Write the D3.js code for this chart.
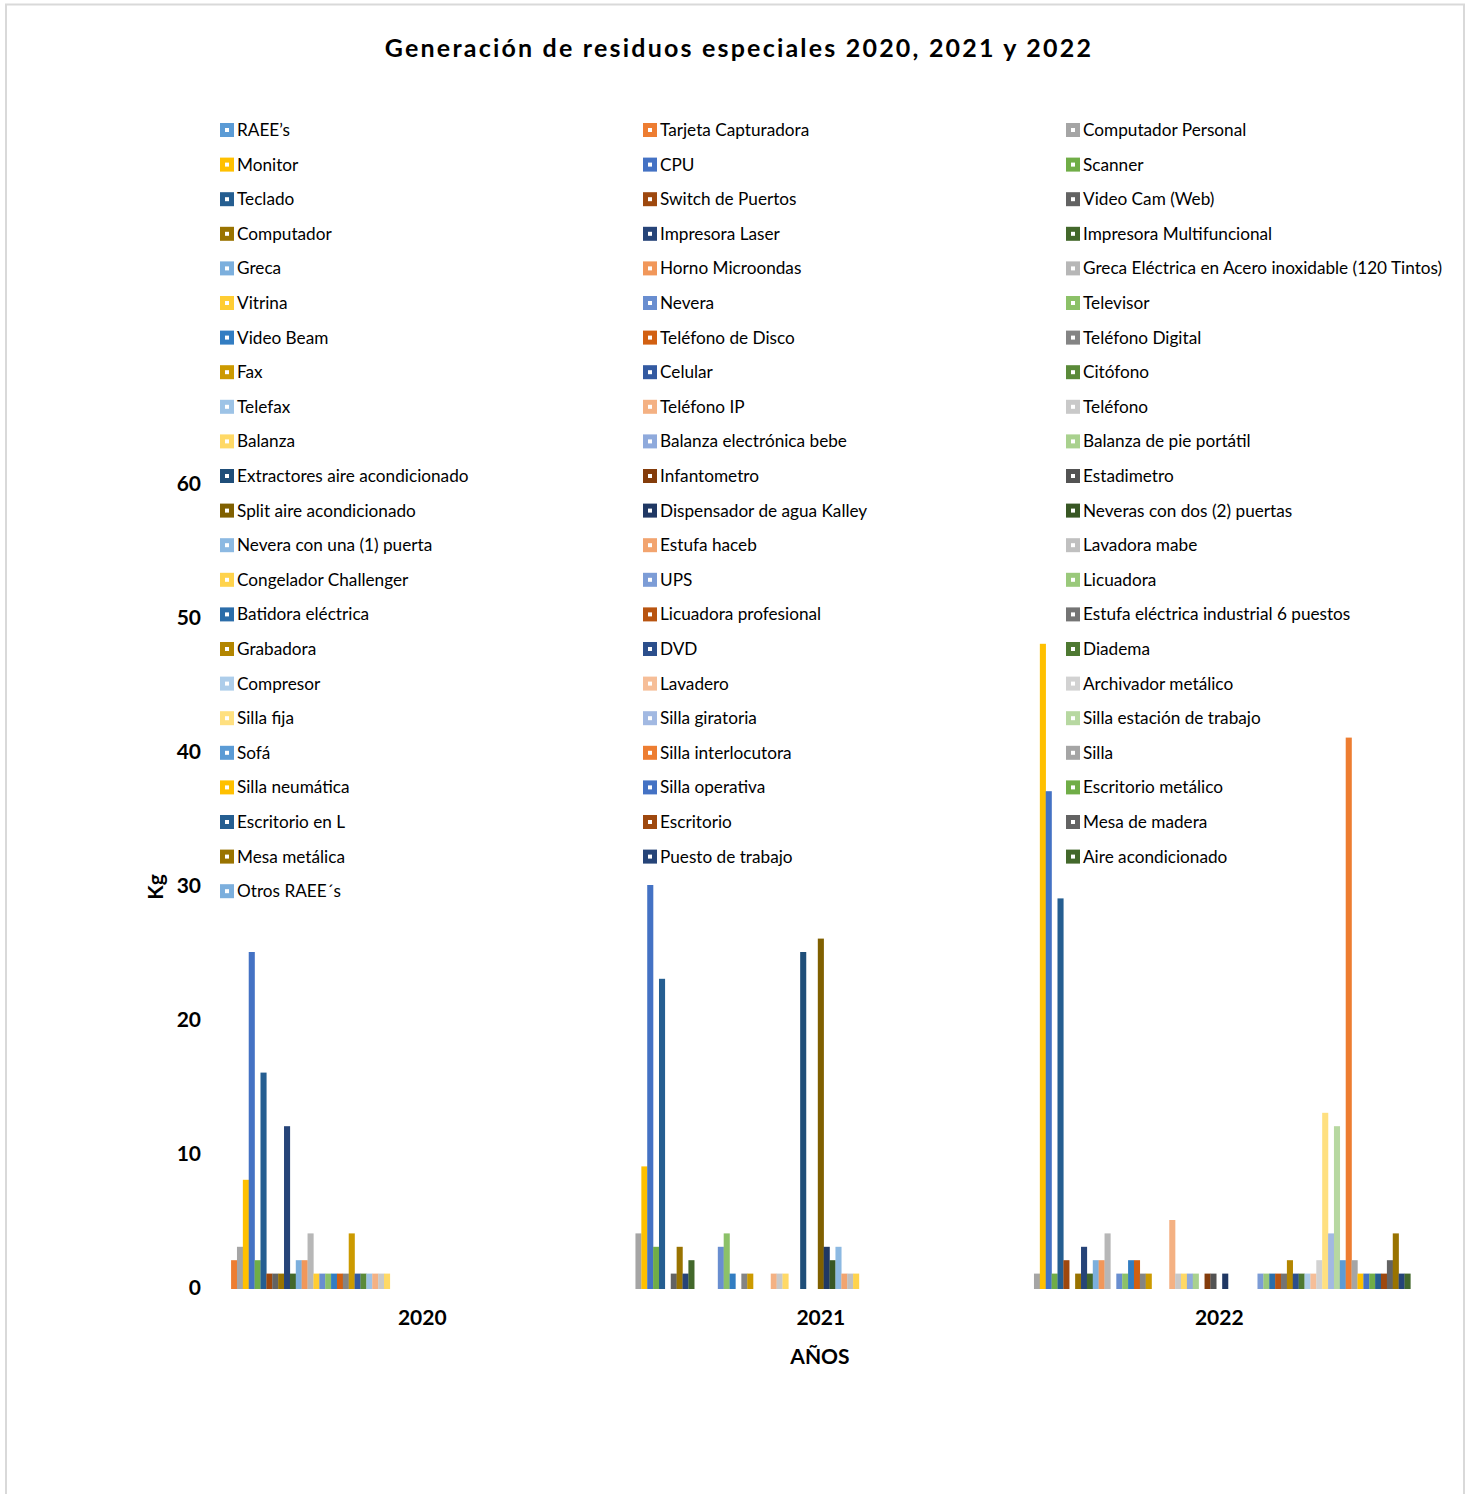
<!DOCTYPE html>
<html>
<head>
<meta charset="utf-8">
<script src="https://cdn.jsdelivr.net/npm/d3@7"></script>
<style>
  body { margin: 0; background: #fff; }
  svg text { font-family: Lato, "Open Sans", sans-serif; fill: #000; }
</style>
</head>
<body>
<svg width="1472" height="1494"></svg>
<script>
  // categories on the x axis
  const years = ["2020", "2021", "2022"];

  // series, in legend order
  const seriesNames = [
    "RAEE’s", "Tarjeta Capturadora", "Computador Personal",
    "Monitor", "CPU", "Scanner",
    "Teclado", "Switch de Puertos", "Video Cam (Web)",
    "Computador", "Impresora Laser", "Impresora Multifuncional",
    "Greca", "Horno Microondas", "Greca Eléctrica en Acero inoxidable (120 Tintos)",
    "Vitrina", "Nevera", "Televisor",
    "Video Beam", "Teléfono de Disco", "Teléfono Digital",
    "Fax", "Celular", "Citófono",
    "Telefax", "Teléfono IP", "Teléfono",
    "Balanza", "Balanza electrónica bebe", "Balanza de pie portátil",
    "Extractores aire acondicionado", "Infantometro", "Estadimetro",
    "Split aire acondicionado", "Dispensador de agua Kalley", "Neveras con dos (2) puertas",
    "Nevera con una (1) puerta", "Estufa haceb", "Lavadora mabe",
    "Congelador Challenger", "UPS", "Licuadora",
    "Batidora eléctrica", "Licuadora profesional", "Estufa eléctrica industrial 6 puestos",
    "Grabadora", "DVD", "Diadema",
    "Compresor", "Lavadero", "Archivador metálico",
    "Silla fija", "Silla giratoria", "Silla estación de trabajo",
    "Sofá", "Silla interlocutora", "Silla",
    "Silla neumática", "Silla operativa", "Escritorio metálico",
    "Escritorio en L", "Escritorio", "Mesa de madera",
    "Mesa metálica", "Puesto de trabajo", "Aire acondicionado",
    "Otros RAEE´s"
  ];

  // kg per series, same order as seriesNames
  const kg2020 = [
    0, 2, 3, 8, 25, 2, 16, 1, 1, 1, 12, 1, 2, 2, 4, 1, 1, 1, 1, 1,
    1, 4, 1, 1, 1, 1, 1, 1, 0, 0, 0, 0, 0, 0, 0, 0, 0, 0, 0, 0,
    0, 0, 0, 0, 0, 0, 0, 0, 0, 0, 0, 0, 0, 0, 0, 0, 0, 0, 0, 0,
    0, 0, 0, 0, 0, 0, 0
  ];
  const kg2021 = [
    0, 0, 4, 9, 30, 3, 23, 0, 1, 3, 1, 2, 0, 0, 0, 0, 3, 4, 1, 0,
    1, 1, 0, 0, 0, 1, 1, 1, 0, 0, 25, 0, 0, 26, 3, 2, 3, 1, 1, 1,
    0, 0, 0, 0, 0, 0, 0, 0, 0, 0, 0, 0, 0, 0, 0, 0, 0, 0, 0, 0,
    0, 0, 0, 0, 0, 0, 0
  ];
  const kg2022 = [
    0, 0, 1, 48, 37, 1, 29, 2, 0, 1, 3, 1, 2, 2, 4, 0, 1, 1, 2, 2,
    1, 1, 0, 0, 0, 5, 1, 1, 1, 1, 0, 1, 1, 0, 1, 0, 0, 0, 0, 0,
    1, 1, 1, 1, 1, 2, 1, 1, 1, 1, 2, 13, 4, 12, 2, 41, 2, 1, 1, 1,
    1, 1, 2, 4, 1, 1, 0
  ];
  const yTicks = [0, 10, 20, 30, 40, 50, 60];

  const byYear = { "2020": kg2020, "2021": kg2021, "2022": kg2022 };

  // office palette and its shade variations (lumMod, lumOff)
  const accents = ["#5B9BD5", "#ED7D31", "#A5A5A5", "#FFC000", "#4472C4", "#70AD47"];
  const shades = [[1, 0], [0.6, 0], [0.8, 0.2], [0.8, 0], [0.6, 0.4], [0.5, 0], [0.7, 0.3], [0.7, 0], [0.5, 0.5]];
  const seriesColor = i => {
    const c = d3.hsl(accents[i % 6]);
    const [m, o] = shades[Math.floor(i / 6) % shades.length];
    c.l = c.l * m + o;
    return c.formatHex();
  };

  const svg = d3.select("svg");

  svg.append("rect")
    .attr("x", 6).attr("y", 4.5)
    .attr("width", 1458).attr("height", 1520)
    .attr("fill", "none").attr("stroke", "#D9D9D9").attr("stroke-width", 2);

  svg.append("text")
    .attr("x", 739).attr("y", 57)
    .attr("text-anchor", "middle")
    .attr("font-size", 25).attr("font-weight", 700)
    .attr("letter-spacing", 2.2)
    .text("Generación de residuos especiales 2020, 2021 y 2022");

  const y = d3.scaleLinear().domain([0, 60]).range([1287, 483]);
  const x = d3.scaleBand().domain(years).range([223, 1418.5]);
  const xs = d3.scaleBand().domain(d3.range(seriesNames.length))
    .range([2.2, x.bandwidth() - 2.2]);

  // y axis labels only, no lines
  const yAxis = svg.append("g")
    .attr("transform", "translate(201,0)")
    .call(d3.axisLeft(y).tickValues(yTicks).tickSize(0).tickPadding(0));
  yAxis.select(".domain").remove();
  yAxis.selectAll("text")
    .attr("font-size", 21).attr("font-weight", 700)
    .attr("font-family", "Lato, sans-serif").attr("fill", "#000")
    .attr("dy", "0.38em");

  // bars
  const groups = svg.append("g").selectAll("g")
    .data(years)
    .join("g")
    .attr("transform", d => `translate(${x(d)},0)`);

  groups.selectAll("rect")
    .data(yr => byYear[yr].map((v, i) => ({ v, i })).filter(d => d.v > 0))
    .join("rect")
    .attr("x", d => xs(d.i))
    .attr("y", d => y(d.v))
    .attr("width", xs.bandwidth() + 0.2)
    .attr("height", d => y(0) - y(d.v) + 2)
    .attr("fill", d => seriesColor(d.i));

  // x axis labels
  const xAxis = svg.append("g")
    .attr("transform", "translate(0,1317)")
    .call(d3.axisBottom(x).tickSize(0).tickPadding(0));
  xAxis.select(".domain").remove();
  xAxis.selectAll("text")
    .attr("font-size", 21).attr("font-weight", 700)
    .attr("font-family", "Lato, sans-serif").attr("fill", "#000")
    .attr("dy", "0.4em");

  svg.append("text")
    .attr("x", 820).attr("y", 1364)
    .attr("text-anchor", "middle")
    .attr("font-size", 21).attr("font-weight", 700)
    .text("AÑOS");

  svg.append("text")
    .attr("transform", "translate(163,887) rotate(-90)")
    .attr("text-anchor", "middle")
    .attr("font-size", 21).attr("font-weight", 700)
    .text("Kg");

  // legend, three columns, row-major
  const legend = svg.append("g").selectAll("g")
    .data(seriesNames)
    .join("g")
    .attr("transform", (d, i) => `translate(${220 + (i % 3) * 423},${130 + Math.floor(i / 3) * 34.6})`);

  legend.append("rect")
    .attr("x", 0).attr("y", -7)
    .attr("width", 14).attr("height", 14)
    .attr("fill", (d, i) => seriesColor(i));
  legend.append("rect")
    .attr("x", 5).attr("y", -2)
    .attr("width", 4).attr("height", 4)
    .attr("fill", "#fff");
  legend.append("text")
    .attr("x", 17).attr("y", 6)
    .attr("font-size", 17.2)
    .text(d => d);
</script>
</body>
</html>
